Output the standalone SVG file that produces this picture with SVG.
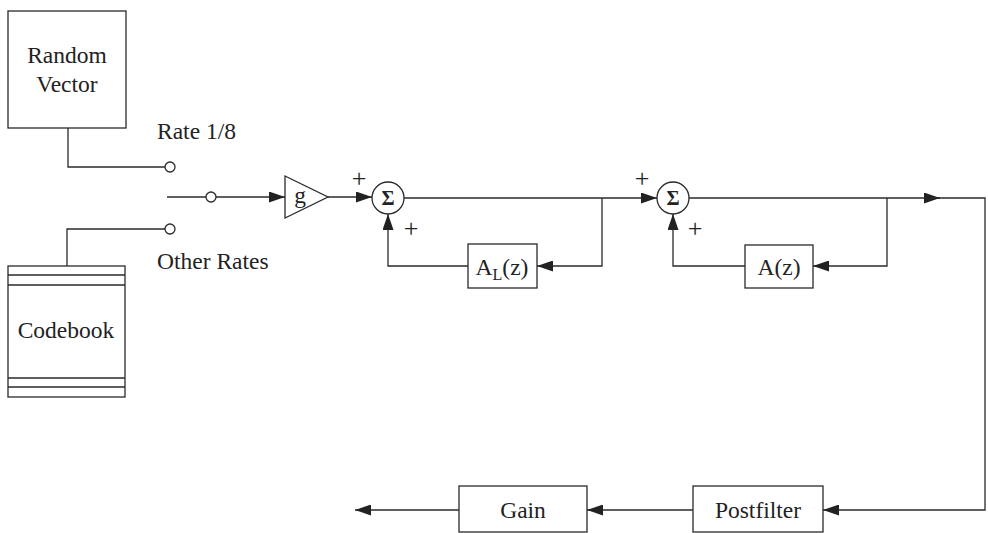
<svg xmlns="http://www.w3.org/2000/svg" width="988" height="533" viewBox="0 0 988 533">
<style>
.b{fill:#fff;stroke:#2a2a2a;stroke-width:1.3}
.l{fill:none;stroke:#2a2a2a;stroke-width:1.3}
.t{font-family:"Liberation Serif",serif;font-size:23.5px;fill:#222}
.s{font-family:"Liberation Serif",serif;font-size:26px;fill:#222}
.sg{font-family:"Liberation Serif",serif;font-size:20px;font-weight:bold;fill:#222}
</style>
<defs>
<marker id="a" markerWidth="17" markerHeight="11" refX="16" refY="5.5" orient="auto" markerUnits="userSpaceOnUse">
<path d="M0,0 L16,5.5 L0,11 Z" fill="#222"/>
</marker>
</defs>
<rect width="988" height="533" fill="#fff"/>
<g id="connectors">
<path class="l" d="M68,128 V167 H165"/>
<path class="l" d="M67,266 V229 H165"/>
<path class="l" d="M167,197 H206"/>
<path class="l" d="M216,197 H285" marker-end="url(#a)"/>
<path class="l" d="M328,197 H372" marker-end="url(#a)"/>
<path class="l" d="M404,198 H657" marker-end="url(#a)"/>
<path class="l" d="M602,198 V266 H537" marker-end="url(#a)"/>
<path class="l" d="M468,266 H388 V214" marker-end="url(#a)"/>
<path class="l" d="M689,198 H940" marker-end="url(#a)"/>
<path class="l" d="M930,198 H985 V510 H823" marker-end="url(#a)"/>
<path class="l" d="M887,198 V266 H813" marker-end="url(#a)"/>
<path class="l" d="M745,266 H673 V214" marker-end="url(#a)"/>
<path class="l" d="M693,510 H587" marker-end="url(#a)"/>
<path class="l" d="M459,510 H355" marker-end="url(#a)"/>
</g>
<g id="random-vector">
<rect class="b" x="8" y="11" width="118" height="117"/>
<text class="t" x="67" y="63" text-anchor="middle">Random</text>
<text class="t" x="67" y="92" text-anchor="middle">Vector</text>
</g>
<g id="codebook">
<rect class="b" x="8" y="266" width="117" height="131"/>
<path class="l" d="M8,275 H125 M8,285 H125 M8,378 H125 M8,387 H125"/>
<text class="t" x="66" y="338" text-anchor="middle">Codebook</text>
</g>
<g id="switch">
<circle class="b" cx="170" cy="167" r="5"/>
<circle class="b" cx="170" cy="229" r="5"/>
<circle class="b" cx="211" cy="197" r="5"/>
<text class="t" x="157" y="139">Rate 1/8</text>
<text class="t" x="157" y="269">Other Rates</text>
</g>
<g id="gain-g">
<path class="b" d="M285,176 L328,197 L285,218 Z"/>
<text class="t" x="300" y="203" text-anchor="middle">g</text>
</g>
<g id="sum1">
<circle class="b" cx="388" cy="198" r="16"/>
<text class="sg" x="388" y="205" text-anchor="middle">Σ</text>
<text class="s" x="359" y="187" text-anchor="middle">+</text>
<text class="s" x="411" y="237" text-anchor="middle">+</text>
</g>
<g id="AL">
<rect class="b" x="468" y="244" width="69" height="44"/>
<text class="t" x="502" y="275" text-anchor="middle">A<tspan font-size="16" dy="5">L</tspan><tspan dy="-5">(z)</tspan></text>
</g>
<g id="sum2">
<circle class="b" cx="673" cy="198" r="16"/>
<text class="sg" x="673" y="205" text-anchor="middle">Σ</text>
<text class="s" x="642" y="187" text-anchor="middle">+</text>
<text class="s" x="695" y="237" text-anchor="middle">+</text>
</g>
<g id="A">
<rect class="b" x="745" y="245" width="68" height="43"/>
<text class="t" x="779" y="275" text-anchor="middle">A(z)</text>
</g>
<g id="postfilter">
<rect class="b" x="693" y="486" width="130" height="46"/>
<text class="t" x="758" y="518" text-anchor="middle">Postfilter</text>
</g>
<g id="gain">
<rect class="b" x="459" y="486" width="128" height="46"/>
<text class="t" x="523" y="518" text-anchor="middle">Gain</text>
</g>
</svg>
